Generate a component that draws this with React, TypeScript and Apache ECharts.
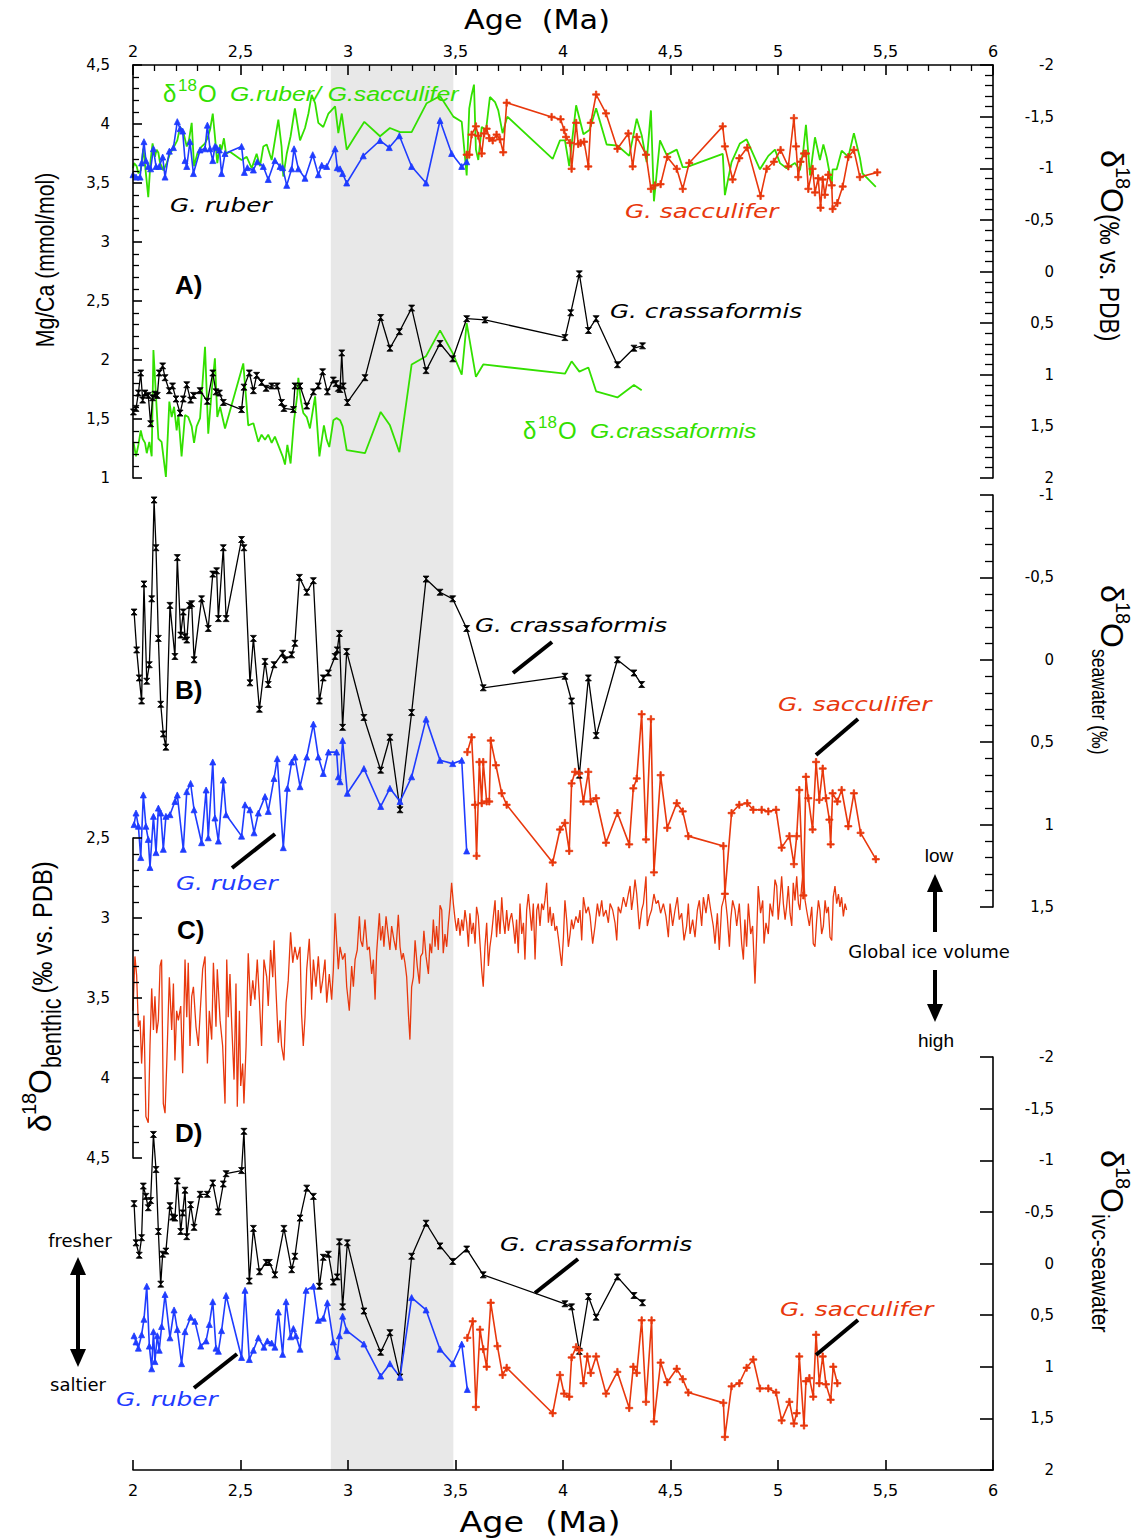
import React, { useEffect, useRef } from "react";
import * as echarts from "echarts";

// ---------------- DATA ----------------
const AGE_RANGE = [2, 6];
const SHADED_AGE = [2.92, 3.49];

// Panel A – Mg/Ca (mmol/mol)
const rubMgCa = [[2.0,3.57],[2.014,3.55],[2.033,3.55],[2.04,3.67],[2.051,3.85],[2.06,3.69],[2.071,3.64],[2.082,3.62],[2.095,3.79],[2.107,3.64],[2.122,3.64],[2.138,3.72],[2.149,3.55],[2.169,3.77],[2.188,3.8],[2.206,4.02],[2.219,3.96],[2.231,3.94],[2.242,3.69],[2.25,3.64],[2.265,3.85],[2.281,3.58],[2.312,3.78],[2.335,3.79],[2.346,3.99],[2.358,3.79],[2.371,3.69],[2.381,3.81],[2.389,3.8],[2.402,3.78],[2.412,3.58],[2.428,3.75],[2.505,3.81],[2.518,3.59],[2.532,3.63],[2.56,3.61],[2.578,3.68],[2.606,3.64],[2.629,3.53],[2.66,3.69],[2.684,3.64],[2.696,3.63],[2.715,3.48],[2.738,3.62],[2.749,3.79],[2.769,3.62],[2.8,3.54],[2.836,3.74],[2.862,3.57],[2.878,3.65],[2.901,3.64],[2.94,3.79],[2.95,3.63],[2.963,3.62],[2.975,3.58],[2.994,3.5],[3.071,3.73],[3.149,3.86],[3.192,3.8],[3.239,3.9],[3.296,3.64],[3.363,3.5],[3.428,4.03],[3.482,3.75],[3.529,3.64],[3.552,3.68]];
const saccMgCa = [[3.552,3.74],[3.564,3.74],[3.575,3.91],[3.595,3.98],[3.606,3.9],[3.622,3.75],[3.633,3.92],[3.645,3.96],[3.657,3.88],[3.673,3.86],[3.691,3.91],[3.707,3.87],[3.722,3.76],[3.738,4.18],[3.947,4.06],[3.989,4.04],[4.005,3.95],[4.014,3.89],[4.033,3.84],[4.04,3.62],[4.061,4.01],[4.071,3.83],[4.082,3.84],[4.098,3.85],[4.118,3.64],[4.129,4.01],[4.154,4.25],[4.2,4.09],[4.253,3.79],[4.304,3.92],[4.324,3.64],[4.343,3.89],[4.386,3.74],[4.409,3.45],[4.428,3.48],[4.454,3.49],[4.485,3.72],[4.529,3.62],[4.557,3.45],[4.587,3.67],[4.743,3.98],[4.753,3.81],[4.789,3.53],[4.82,3.71],[4.857,3.8],[4.919,3.39],[4.947,3.62],[4.981,3.68],[5.012,3.78],[5.048,3.64],[5.074,4.05],[5.084,3.81],[5.094,3.55],[5.105,3.68],[5.121,3.75],[5.13,3.75],[5.141,3.45],[5.161,3.62],[5.172,3.42],[5.187,3.54],[5.198,3.29],[5.208,3.53],[5.218,3.4],[5.234,3.57],[5.25,3.48],[5.254,3.28],[5.276,3.33],[5.301,3.47],[5.327,3.72],[5.353,3.78],[5.381,3.55],[5.462,3.59]];
const crassMgCa = [[2.002,1.56],[2.014,1.59],[2.025,1.72],[2.036,1.89],[2.045,1.66],[2.056,1.72],[2.071,1.7],[2.082,1.46],[2.091,1.68],[2.102,1.71],[2.113,1.7],[2.122,1.89],[2.138,1.95],[2.149,1.85],[2.169,1.74],[2.184,1.78],[2.2,1.67],[2.219,1.55],[2.234,1.67],[2.25,1.79],[2.268,1.66],[2.281,1.7],[2.312,1.74],[2.346,1.65],[2.371,1.89],[2.386,1.73],[2.402,1.72],[2.42,1.64],[2.505,1.58],[2.516,1.77],[2.541,1.89],[2.56,1.74],[2.575,1.87],[2.598,1.81],[2.619,1.76],[2.645,1.78],[2.671,1.78],[2.691,1.64],[2.702,1.59],[2.746,1.58],[2.753,1.78],[2.777,1.78],[2.808,1.61],[2.839,1.73],[2.862,1.78],[2.882,1.9],[2.904,1.73],[2.932,1.83],[2.944,1.8],[2.955,1.76],[2.963,1.75],[2.971,2.06],[2.978,1.78],[2.997,1.64],[3.079,1.85],[3.152,2.36],[3.195,2.1],[3.239,2.24],[3.296,2.44],[3.363,1.91],[3.428,2.14],[3.487,2.01],[3.552,2.35],[3.637,2.34],[4.009,2.19],[4.036,2.4],[4.076,2.73],[4.118,2.25],[4.154,2.35],[4.253,1.96],[4.33,2.1],[4.37,2.12]];
// Panel A – δ18O (‰ vs PDB)
const d18RubSacc = [[2.0,-1.0],[2.005,-1.05],[2.017,-1.02],[2.025,-0.95],[2.036,-0.98],[2.048,-1.19],[2.06,-0.95],[2.071,-0.72],[2.082,-1.08],[2.091,-1.24],[2.102,-1.11],[2.11,-1.18],[2.118,-1.15],[2.126,-1.05],[2.133,-1.02],[2.141,-0.98],[2.157,-1.05],[2.172,-1.14],[2.191,-1.21],[2.206,-1.27],[2.219,-1.4],[2.234,-1.35],[2.25,-1.21],[2.26,-1.27],[2.273,-1.44],[2.284,-1.02],[2.299,-1.14],[2.319,-1.21],[2.335,-1.24],[2.346,-1.29],[2.358,-1.37],[2.371,-1.53],[2.381,-1.31],[2.392,-1.05],[2.405,-1.23],[2.412,-1.18],[2.423,-1.29],[2.433,-1.14],[2.451,-1.16],[2.505,-1.08],[2.529,-1.11],[2.552,-1.0],[2.575,-1.14],[2.591,-1.02],[2.606,-1.21],[2.622,-1.23],[2.637,-1.13],[2.645,-1.08],[2.66,-1.27],[2.676,-1.47],[2.691,-1.21],[2.699,-0.92],[2.715,-1.14],[2.733,-1.31],[2.753,-1.58],[2.777,-1.27],[2.8,-1.39],[2.816,-1.53],[2.831,-1.71],[2.847,-1.63],[2.862,-1.44],[2.885,-1.4],[2.909,-1.53],[2.94,-1.6],[2.955,-1.34],[2.971,-1.53],[2.994,-1.18],[3.033,-1.31],[3.076,-1.45],[3.149,-1.31],[3.195,-1.39],[3.242,-1.35],[3.296,-1.35],[3.366,-1.63],[3.428,-1.7],[3.49,-1.5],[3.529,-1.45],[3.552,-0.93],[3.564,-1.58],[3.575,-1.71],[3.586,-1.81],[3.595,-1.18],[3.606,-1.08],[3.622,-1.4],[3.642,-1.37],[3.66,-1.69],[3.684,-1.64],[3.699,-1.56],[3.719,-1.34],[3.741,-1.5],[3.952,-1.09],[3.986,-1.27],[4.009,-1.27],[4.029,-1.02],[4.061,-1.61],[4.095,-1.33],[4.123,-1.37],[4.154,-1.58],[4.203,-1.23],[4.253,-1.22],[4.308,-1.12],[4.343,-1.48],[4.366,-1.32],[4.389,-1.06],[4.409,-1.56],[4.423,-0.68],[4.451,-1.27],[4.482,-1.13],[4.529,-1.18],[4.557,-1.01],[4.575,-1.01],[4.743,-1.14],[4.753,-0.74],[4.784,-1.06],[4.823,-1.24],[4.854,-1.28],[4.916,-0.99],[4.955,-1.12],[4.986,-1.18],[5.009,-1.05],[5.04,-1.0],[5.079,-1.05],[5.102,-0.98],[5.118,-1.18],[5.13,-1.42],[5.141,-1.14],[5.149,-0.93],[5.172,-1.3],[5.195,-1.08],[5.211,-1.23],[5.226,-1.11],[5.25,-0.84],[5.254,-0.99],[5.273,-0.99],[5.296,-1.17],[5.327,-1.11],[5.353,-1.34],[5.381,-1.1],[5.393,-0.95],[5.455,-0.82]];
const d18Crass = [[2.002,1.65],[2.014,1.79],[2.025,1.68],[2.036,1.54],[2.045,1.62],[2.056,1.66],[2.064,1.76],[2.076,1.65],[2.087,1.79],[2.095,0.76],[2.107,1.21],[2.118,1.62],[2.133,1.65],[2.153,1.99],[2.169,1.26],[2.18,1.41],[2.191,1.31],[2.203,1.54],[2.211,1.39],[2.226,1.79],[2.242,1.39],[2.257,1.41],[2.273,1.5],[2.284,1.66],[2.296,1.5],[2.312,1.42],[2.335,0.73],[2.35,1.57],[2.366,1.16],[2.381,0.84],[2.392,1.41],[2.405,1.31],[2.428,1.52],[2.513,0.89],[2.536,1.49],[2.56,1.47],[2.583,1.65],[2.598,1.58],[2.614,1.63],[2.629,1.58],[2.645,1.66],[2.66,1.6],[2.681,1.71],[2.696,1.79],[2.707,1.87],[2.718,1.68],[2.733,1.86],[2.749,1.44],[2.764,1.2],[2.769,1.03],[2.78,1.24],[2.792,1.37],[2.808,1.41],[2.823,1.52],[2.847,1.21],[2.867,1.79],[2.878,1.63],[2.888,1.49],[2.901,1.63],[2.913,1.7],[2.932,1.44],[2.947,1.42],[2.963,1.44],[2.975,1.5],[2.994,1.73],[3.079,1.76],[3.152,1.36],[3.195,1.49],[3.239,1.75],[3.296,0.9],[3.363,0.82],[3.428,0.57],[3.487,0.79],[3.529,1.0],[3.552,0.5],[3.595,1.02],[3.629,0.9],[4.009,0.99],[4.04,0.87],[4.076,0.97],[4.118,0.93],[4.154,1.16],[4.253,1.22],[4.33,1.1],[4.366,1.15]];

// Panel B – δ18O seawater (‰)
const crassSw = [[2.005,-0.29],[2.017,-0.06],[2.029,0.11],[2.04,0.25],[2.051,-0.46],[2.064,0.13],[2.076,0.03],[2.087,-0.37],[2.098,-0.97],[2.107,-0.68],[2.118,-0.13],[2.129,0.27],[2.141,0.45],[2.153,0.53],[2.172,-0.33],[2.195,-0.02],[2.206,-0.62],[2.222,-0.15],[2.234,-0.29],[2.242,-0.14],[2.25,-0.12],[2.262,-0.33],[2.273,-0.34],[2.284,0.0],[2.319,-0.37],[2.35,-0.19],[2.371,-0.52],[2.389,-0.54],[2.397,-0.25],[2.42,-0.68],[2.433,-0.25],[2.505,-0.73],[2.516,-0.68],[2.544,0.14],[2.56,-0.13],[2.588,0.3],[2.614,0.01],[2.629,0.15],[2.656,0.03],[2.696,-0.04],[2.707,0.0],[2.738,-0.03],[2.753,-0.1],[2.774,-0.5],[2.808,-0.41],[2.839,-0.48],[2.867,0.25],[2.885,0.11],[2.909,0.08],[2.94,-0.02],[2.95,-0.06],[2.96,-0.16],[2.975,0.41],[2.994,-0.05],[3.074,0.35],[3.152,0.67],[3.195,0.47],[3.242,0.91],[3.296,0.32],[3.363,-0.49],[3.428,-0.41],[3.487,-0.37],[3.552,-0.19],[3.629,0.17],[4.009,0.1],[4.04,0.25],[4.076,0.7],[4.118,0.11],[4.154,0.46],[4.253,0.0],[4.33,0.08],[4.366,0.15]];
const rubSw = [[2.005,1.0],[2.014,0.93],[2.025,1.01],[2.036,1.2],[2.048,0.82],[2.06,1.01],[2.071,1.09],[2.079,1.26],[2.095,0.95],[2.107,1.17],[2.118,0.9],[2.129,0.93],[2.141,1.15],[2.153,0.95],[2.172,0.94],[2.195,0.86],[2.206,0.82],[2.234,1.15],[2.25,0.8],[2.268,0.75],[2.284,0.91],[2.319,1.11],[2.34,0.79],[2.35,1.08],[2.371,0.62],[2.381,0.96],[2.397,1.1],[2.42,0.73],[2.433,0.94],[2.505,1.07],[2.521,0.88],[2.544,0.91],[2.563,1.05],[2.583,0.93],[2.614,0.83],[2.629,0.92],[2.656,0.72],[2.671,0.6],[2.699,1.14],[2.718,0.78],[2.738,0.62],[2.753,0.59],[2.777,0.77],[2.808,0.59],[2.839,0.39],[2.862,0.59],[2.885,0.69],[2.909,0.56],[2.947,0.56],[2.955,0.71],[2.963,0.74],[2.975,0.49],[2.997,0.81],[3.074,0.66],[3.152,0.89],[3.195,0.78],[3.242,0.86],[3.296,0.71],[3.363,0.36],[3.428,0.61],[3.487,0.63],[3.529,0.61],[3.552,1.16]];
const saccSw = [[3.555,0.56],[3.575,0.47],[3.591,0.88],[3.598,1.19],[3.611,0.62],[3.622,0.87],[3.629,0.62],[3.645,0.86],[3.657,0.86],[3.664,0.49],[3.688,0.64],[3.715,0.81],[3.738,0.88],[3.952,1.23],[3.986,1.03],[4.009,0.99],[4.029,1.16],[4.04,0.75],[4.056,0.68],[4.076,0.69],[4.095,0.86],[4.118,0.68],[4.129,0.86],[4.154,0.84],[4.2,1.11],[4.253,0.93],[4.308,1.12],[4.327,0.78],[4.343,0.72],[4.366,0.33],[4.386,1.09],[4.409,0.36],[4.423,1.29],[4.454,0.7],[4.485,1.02],[4.529,0.87],[4.557,0.92],[4.583,1.07],[4.746,1.13],[4.753,1.42],[4.784,0.93],[4.82,0.88],[4.857,0.87],[4.885,0.91],[4.924,0.91],[4.955,0.92],[4.991,0.91],[5.017,1.14],[5.053,1.07],[5.074,1.24],[5.087,1.07],[5.099,0.79],[5.118,1.43],[5.13,0.71],[5.141,0.84],[5.161,1.03],[5.177,0.62],[5.192,0.85],[5.208,0.66],[5.223,0.84],[5.239,0.97],[5.245,1.12],[5.254,0.81],[5.276,0.86],[5.296,0.79],[5.327,1.01],[5.353,0.81],[5.384,1.05],[5.455,1.21]];

// Panel C – benthic δ18O (‰ vs PDB)
const benthic = [[2.0,3.58],[2.009,3.24],[2.017,3.36],[2.025,3.68],[2.033,3.64],[2.04,3.91],[2.051,3.61],[2.06,4.24],[2.071,4.28],[2.079,3.8],[2.087,3.44],[2.095,3.7],[2.102,3.49],[2.11,3.72],[2.118,3.64],[2.126,3.3],[2.133,3.26],[2.141,4.16],[2.149,4.22],[2.157,3.91],[2.169,3.37],[2.18,3.7],[2.188,3.41],[2.195,3.89],[2.203,3.58],[2.211,3.64],[2.222,3.55],[2.231,3.97],[2.242,3.26],[2.25,3.62],[2.257,3.28],[2.265,3.8],[2.273,3.49],[2.281,3.43],[2.293,3.68],[2.304,3.8],[2.312,3.6],[2.324,3.32],[2.335,3.24],[2.346,3.91],[2.355,3.58],[2.366,3.76],[2.374,3.28],[2.386,3.68],[2.392,3.32],[2.405,3.64],[2.417,3.8],[2.428,4.16],[2.436,3.26],[2.443,3.62],[2.451,3.35],[2.459,3.66],[2.47,4.01],[2.479,3.41],[2.485,4.18],[2.495,3.58],[2.501,4.05],[2.51,3.91],[2.516,4.16],[2.526,3.8],[2.536,3.22],[2.547,3.55],[2.557,3.39],[2.567,3.51],[2.578,3.26],[2.588,3.51],[2.598,3.8],[2.609,3.26],[2.622,3.37],[2.629,3.55],[2.64,3.2],[2.65,3.37],[2.656,3.14],[2.665,3.45],[2.676,3.78],[2.684,3.64],[2.691,3.8],[2.702,3.89],[2.712,3.53],[2.722,3.39],[2.733,3.09],[2.743,3.28],[2.753,3.18],[2.764,3.26],[2.777,3.18],[2.784,3.6],[2.792,3.8],[2.8,3.62],[2.808,3.32],[2.82,3.13],[2.831,3.51],[2.839,3.26],[2.851,3.43],[2.862,3.24],[2.873,3.47],[2.882,3.39],[2.893,3.26],[2.901,3.53],[2.913,3.35],[2.924,3.51],[2.932,3.32],[2.94,2.97],[2.947,3.14],[2.955,3.32],[2.963,3.18],[2.975,3.26],[2.986,3.22],[2.994,3.43],[3.006,3.58],[3.017,3.3],[3.025,3.43],[3.033,3.26],[3.043,3.2],[3.053,2.99],[3.059,3.14],[3.068,3.18],[3.079,3.01],[3.09,3.2],[3.099,3.18],[3.11,3.35],[3.118,3.26],[3.126,3.51],[3.133,3.22],[3.146,2.97],[3.152,3.14],[3.161,3.05],[3.167,3.18],[3.177,2.99],[3.188,3.12],[3.195,3.2],[3.203,3.05],[3.214,3.14],[3.223,3.2],[3.234,2.98],[3.242,3.18],[3.25,3.26],[3.257,3.22],[3.265,3.28],[3.273,3.37],[3.281,3.6],[3.288,3.76],[3.296,3.43],[3.304,3.37],[3.312,3.14],[3.322,3.3],[3.332,3.41],[3.338,3.24],[3.347,3.22],[3.353,3.08],[3.363,3.24],[3.374,3.35],[3.381,3.16],[3.389,3.22],[3.397,3.01],[3.405,3.18],[3.412,3.05],[3.42,3.2],[3.428,2.92],[3.436,2.95],[3.443,3.22],[3.451,3.1],[3.459,3.18],[3.467,3.03],[3.474,2.93],[3.482,2.78],[3.49,2.91],[3.498,3.01],[3.505,3.08],[3.513,3.0],[3.521,3.11],[3.529,3.01],[3.536,3.08],[3.544,2.95],[3.552,3.03],[3.56,3.18],[3.567,2.97],[3.575,3.1],[3.583,3.03],[3.591,3.16],[3.598,2.93],[3.606,2.99],[3.614,3.16],[3.622,3.33],[3.629,3.43],[3.637,3.18],[3.645,3.03],[3.653,3.3],[3.66,3.18],[3.668,3.1],[3.676,2.99],[3.684,2.89],[3.691,3.12],[3.699,2.95],[3.707,3.1],[3.715,2.87],[3.722,3.01],[3.73,3.1],[3.738,2.95],[3.746,3.08],[3.753,3.01],[3.761,2.97],[3.769,3.05],[3.777,3.16],[3.784,3.01],[3.792,3.22],[3.8,2.91],[3.808,3.1],[3.816,3.03],[3.823,3.26],[3.831,2.95],[3.839,2.85],[3.847,2.97],[3.854,3.08],[3.862,2.91],[3.87,3.26],[3.878,2.95],[3.885,2.91],[3.893,3.05],[3.901,2.91],[3.909,2.95],[3.916,2.89],[3.924,2.78],[3.932,3.03],[3.94,2.93],[3.947,3.05],[3.955,2.97],[3.963,3.08],[3.971,3.05],[3.978,3.12],[3.994,3.3],[4.002,3.12],[4.009,2.89],[4.017,3.01],[4.025,3.18],[4.033,3.1],[4.04,3.01],[4.048,3.07],[4.06,2.99],[4.071,3.03],[4.079,2.95],[4.087,3.14],[4.095,2.87],[4.107,2.97],[4.118,2.93],[4.126,2.99],[4.138,3.16],[4.149,3.05],[4.16,2.91],[4.169,2.99],[4.18,2.89],[4.188,2.99],[4.2,2.95],[4.211,3.03],[4.219,2.91],[4.231,2.95],[4.242,3.03],[4.25,3.14],[4.257,2.93],[4.268,2.97],[4.281,2.87],[4.293,2.93],[4.304,2.85],[4.312,2.8],[4.319,2.95],[4.327,2.87],[4.335,2.76],[4.343,2.85],[4.355,3.07],[4.366,2.95],[4.374,2.91],[4.386,2.74],[4.392,3.05],[4.402,2.99],[4.412,2.95],[4.423,2.85],[4.433,2.91],[4.443,2.89],[4.454,2.97],[4.467,2.91],[4.479,2.99],[4.49,3.12],[4.498,2.91],[4.51,3.05],[4.521,2.95],[4.532,2.87],[4.541,3.01],[4.552,2.97],[4.563,3.14],[4.575,3.05],[4.583,2.91],[4.591,3.1],[4.603,3.01],[4.614,3.12],[4.625,2.95],[4.634,2.89],[4.645,3.05],[4.653,2.87],[4.665,2.97],[4.676,2.85],[4.687,2.95],[4.699,3.05],[4.707,3.16],[4.718,2.97],[4.727,3.2],[4.738,2.93],[4.746,2.89],[4.753,2.85],[4.764,2.99],[4.774,3.18],[4.78,3.01],[4.789,2.89],[4.8,2.95],[4.808,3.05],[4.82,2.91],[4.831,3.16],[4.839,3.26],[4.846,3.01],[4.854,3.18],[4.862,2.91],[4.873,3.1],[4.882,3.05],[4.893,3.41],[4.901,3.1],[4.908,2.8],[4.919,2.97],[4.929,2.89],[4.935,3.16],[4.944,3.03],[4.955,3.1],[4.963,2.91],[4.975,2.99],[4.986,2.76],[4.994,2.8],[5.001,3.01],[5.009,2.89],[5.017,2.74],[5.025,2.91],[5.033,3.01],[5.04,2.93],[5.048,2.8],[5.056,2.97],[5.064,3.05],[5.071,2.78],[5.079,2.89],[5.087,2.74],[5.095,2.91],[5.102,2.95],[5.11,2.8],[5.118,2.7],[5.126,2.89],[5.133,2.95],[5.146,3.05],[5.157,2.93],[5.164,3.16],[5.172,3.18],[5.18,3.01],[5.188,2.89],[5.195,2.95],[5.203,3.1],[5.211,3.05],[5.219,2.89],[5.226,2.97],[5.234,2.93],[5.242,3.12],[5.25,3.14],[5.257,2.87],[5.265,2.8],[5.273,2.91],[5.281,2.85],[5.288,2.93],[5.296,2.87],[5.304,2.99],[5.312,2.91],[5.319,2.95]];

// Panel D – δ18O ivc-seawater (‰)
const crassIvc = [[2.005,-0.58],[2.014,-0.2],[2.029,-0.08],[2.04,-0.25],[2.048,-0.75],[2.06,-0.65],[2.071,-0.54],[2.082,-0.61],[2.095,-1.25],[2.107,-0.91],[2.118,-0.31],[2.129,0.2],[2.138,-0.09],[2.153,-0.12],[2.172,-0.56],[2.184,-0.45],[2.195,-0.44],[2.206,-0.8],[2.222,-0.31],[2.231,-0.49],[2.242,-0.71],[2.25,-0.26],[2.268,-0.57],[2.284,-0.35],[2.312,-0.67],[2.346,-0.67],[2.371,-0.78],[2.397,-0.5],[2.42,-0.77],[2.433,-0.87],[2.505,-0.9],[2.516,-1.28],[2.541,0.17],[2.56,-0.34],[2.588,0.08],[2.619,-0.01],[2.634,-0.01],[2.66,0.11],[2.702,-0.34],[2.738,0.06],[2.753,-0.07],[2.777,-0.44],[2.808,-0.73],[2.839,-0.65],[2.867,0.22],[2.885,-0.06],[2.909,-0.09],[2.932,0.18],[2.95,0.13],[2.96,-0.21],[2.975,0.42],[2.997,-0.2],[3.074,0.46],[3.152,0.86],[3.195,0.67],[3.242,1.1],[3.296,-0.07],[3.363,-0.39],[3.428,-0.17],[3.487,-0.02],[3.552,-0.14],[3.629,0.11],[4.009,0.39],[4.04,0.42],[4.076,0.85],[4.118,0.32],[4.154,0.52],[4.253,0.13],[4.33,0.31],[4.37,0.38]];
const rubIvc = [[2.005,0.7],[2.014,0.76],[2.025,0.82],[2.04,0.69],[2.051,0.54],[2.064,0.22],[2.076,0.8],[2.087,1.02],[2.095,0.66],[2.102,0.95],[2.113,0.7],[2.122,0.84],[2.133,0.61],[2.149,0.3],[2.172,0.72],[2.191,0.45],[2.206,0.64],[2.226,0.97],[2.242,0.66],[2.268,0.52],[2.288,0.56],[2.315,0.8],[2.34,0.75],[2.355,0.59],[2.371,0.37],[2.386,0.82],[2.397,0.85],[2.412,0.65],[2.433,0.31],[2.505,0.91],[2.521,0.26],[2.541,0.93],[2.56,0.84],[2.583,0.72],[2.609,0.81],[2.625,0.75],[2.645,0.77],[2.66,0.81],[2.676,0.47],[2.696,0.88],[2.712,0.37],[2.733,0.71],[2.746,0.63],[2.758,0.7],[2.777,0.83],[2.805,0.26],[2.839,0.22],[2.862,0.55],[2.885,0.53],[2.904,0.38],[2.932,0.76],[2.95,0.9],[2.96,0.7],[2.975,0.51],[2.994,0.65],[3.074,0.78],[3.152,1.09],[3.195,0.97],[3.242,1.1],[3.296,0.33],[3.363,0.45],[3.428,0.83],[3.487,0.97],[3.529,0.78],[3.555,1.22]];
const saccIvc = [[3.555,0.72],[3.58,0.56],[3.595,1.39],[3.614,0.64],[3.629,0.83],[3.645,1.0],[3.664,0.38],[3.695,0.8],[3.719,1.08],[3.738,1.01],[3.952,1.45],[3.986,1.08],[4.005,1.26],[4.029,1.29],[4.04,0.91],[4.061,0.81],[4.076,0.84],[4.095,1.16],[4.113,0.9],[4.129,1.06],[4.154,0.9],[4.2,1.26],[4.253,1.05],[4.308,1.4],[4.327,1.0],[4.343,1.06],[4.366,0.55],[4.386,1.34],[4.412,0.55],[4.423,1.53],[4.454,0.96],[4.485,1.15],[4.529,1.02],[4.557,1.12],[4.583,1.25],[4.746,1.35],[4.753,1.68],[4.784,1.19],[4.82,1.16],[4.854,1.01],[4.885,0.93],[4.916,1.21],[4.955,1.21],[4.991,1.25],[5.017,1.52],[5.053,1.34],[5.074,1.55],[5.087,1.45],[5.099,0.9],[5.121,1.57],[5.13,1.14],[5.146,1.11],[5.164,1.29],[5.177,0.69],[5.192,1.16],[5.208,0.9],[5.223,1.17],[5.245,1.32],[5.257,1.0],[5.276,1.16]];

// ---------------- STYLE ----------------
const BLACK = "#000000";
const BLUE = "#1f3cff";
const RED = "#e8380d";
const GREEN = "#33e000";
const TICK_FONT = "DejaVu Sans";
const TXT_FONT = "Liberation Sans";
const ANN_FONT = "DejaVu Sans";

const SYM_X = "path://M0,0L10,0L0,10L10,10Z";
const SYM_PLUS = "path://M4,0H6V4H10V6H6V10H4V6H0V4H4Z";

const fmt = (v: number) => String(v).replace(".", ",");

const L = 133, W = 860;

function yAx(grid: number, pos: string, min: number, max: number, inverse: boolean, minor: boolean, show = true, labelMargin = 23) {
  return {
    gridIndex: grid, type: "value", position: pos, min, max, interval: 0.5, inverse, show, z: 5,
    axisLine: { show: true, onZero: false, lineStyle: { color: BLACK, width: 1.6 } },
    axisTick: { show: true, inside: true, length: pos === "right" ? 13 : 9, lineStyle: { color: BLACK, width: 1.6 } },
    minorTick: { show: minor, splitNumber: 5, length: pos === "right" ? 8 : 6, lineStyle: { color: BLACK, width: 1.3 } },
    splitLine: { show: false },
    axisLabel: { formatter: fmt, margin: labelMargin, fontSize: 15, fontFamily: TICK_FONT, color: BLACK, align: "right" },
  };
}

function xAx(grid: number, pos: string | null, margin = 6, minor = true) {
  if (!pos) return { gridIndex: grid, type: "value", min: AGE_RANGE[0], max: AGE_RANGE[1], show: false };
  return {
    gridIndex: grid, type: "value", position: pos, min: AGE_RANGE[0], max: AGE_RANGE[1], interval: 0.5, z: 5,
    axisLine: { show: true, onZero: false, lineStyle: { color: BLACK, width: 1.6 } },
    axisTick: { show: true, inside: true, length: 10, lineStyle: { color: BLACK, width: 1.6 } },
    minorTick: { show: minor, splitNumber: 5, length: 6, lineStyle: { color: BLACK, width: 1.3 } },
    splitLine: { show: false },
    axisLabel: { formatter: fmt, margin, fontSize: 16, fontFamily: TICK_FONT, color: BLACK },
  };
}

function ser(name: string, data: number[][], xi: number, yi: number, color: string, symbol: string, size: number, width = 1.5) {
  return {
    name, type: "line", data, xAxisIndex: xi, yAxisIndex: yi, z: 3,
    symbol, symbolSize: size, showSymbol: symbol !== "none",
    lineStyle: { color, width }, itemStyle: { color, borderColor: color, borderWidth: 0.8 },
    silent: true, animation: false,
  };
}

function txt(x: number, y: number, text: string, font: string, fill = BLACK, align = "left", extra: any = {}) {
  return { type: "text", x, y, z: 20, ...extra, style: { text, font, fill, textAlign: align, textVerticalAlign: "middle" } };
}
function spec(x: number, y: number, text: string, fill: string) {
  return txt(x, y, text, `italic 19px ${ANN_FONT}`, fill, "left", { scaleX: 1.3 });
}

function seg(x1: number, y1: number, x2: number, y2: number, w = 4) {
  return { type: "line", z: 20, shape: { x1, y1, x2, y2 }, style: { stroke: BLACK, lineWidth: w, lineCap: "butt" } };
}

function head(x: number, tipY: number, dir: number) {
  const b = tipY - dir * 18;
  return { type: "polygon", z: 20, shape: { points: [[x, tipY], [x - 8, b], [x + 8, b]] }, style: { fill: BLACK } };
}

function d18Label(x: number, y: number, species: string, color: string) {
  return {
    type: "group", x, y, z: 20,
    children: [
      { type: "text", x: 0, y: 0, z: 20, style: { text: "δ", font: `24px ${TXT_FONT}`, fill: color, textVerticalAlign: "middle" } },
      { type: "text", x: 15, y: -8, z: 20, style: { text: "18", font: `17px ${TXT_FONT}`, fill: color, textVerticalAlign: "middle" } },
      { type: "text", x: 35, y: 0, z: 20, style: { text: "O", font: `24px ${TXT_FONT}`, fill: color, textVerticalAlign: "middle" } },
      { type: "text", x: 67, y: 1, z: 20, scaleX: 1.18, style: { text: species, font: `italic 21px ${TXT_FONT}`, fill: color, textVerticalAlign: "middle" } },
    ],
  };
}

function d18Title(x: number, y: number, rot: number, sub: string, rest: string, subSize = 22, subScale = 0.8, restSize = 26, restGap = 6) {
  const children: any[] = [
    { type: "text", x: 0, y: 0, style: { text: "δ", font: `32px ${TXT_FONT}`, fill: BLACK, textVerticalAlign: "middle" } },
    { type: "text", x: 17, y: -11, style: { text: "18", font: `20px ${TXT_FONT}`, fill: BLACK, textVerticalAlign: "middle" } },
    { type: "text", x: 38, y: 0, style: { text: "O", font: `32px ${TXT_FONT}`, fill: BLACK, textVerticalAlign: "middle" } },
  ];
  let cx = 64;
  if (sub) {
    children.push({ type: "text", x: cx, y: 12, scaleX: subScale, style: { text: sub, font: `${subSize}px ${TXT_FONT}`, fill: BLACK, textVerticalAlign: "middle" } });
    cx += sub.length * subSize * 0.48 * subScale + restGap;
  }
  if (rest) {
    children.push({ type: "text", x: cx, y: 2, scaleX: 0.85, style: { text: rest, font: `${restSize}px ${TXT_FONT}`, fill: BLACK, textVerticalAlign: "middle" } });
  }
  return { type: "group", x, y, rotation: rot, z: 20, children };
}

const option: any = {
  animation: false,
  backgroundColor: "#ffffff",
  grid: [
    { left: L, top: 65, width: W, height: 413, containLabel: false, outerBoundsMode: "none" },
    { left: L, top: 495, width: W, height: 412, containLabel: false, outerBoundsMode: "none" },
    { left: L, top: 838, width: W, height: 320, containLabel: false, outerBoundsMode: "none" },
    { left: L, top: 1057, width: W, height: 413, containLabel: false, outerBoundsMode: "none" },
    { left: L, top: 65, width: W, height: 1405, containLabel: false, outerBoundsMode: "none" },
  ],
  xAxis: [xAx(0, "top", 6, true), xAx(1, null), xAx(2, null), xAx(3, "bottom", 12, false), xAx(4, null)],
  yAxis: [
    yAx(0, "left", 1, 4.5, false, true),
    yAx(0, "right", -2, 2, true, true, true, 61),
    yAx(1, "right", -1, 1.5, true, true, true, 61),
    yAx(2, "left", 2.5, 4.5, true, true),
    yAx(3, "right", -2, 2, true, false, true, 61),
    { gridIndex: 4, type: "value", min: 0, max: 1, show: false },
  ],
  series: [
    {
      type: "line", xAxisIndex: 4, yAxisIndex: 5, data: [[2, 0.5]], symbol: "none", z: 1,
      lineStyle: { opacity: 0 }, silent: true,
      markArea: { silent: true, itemStyle: { color: "#e8e8e8" }, data: [[{ xAxis: SHADED_AGE[0] }, { xAxis: SHADED_AGE[1] }]] },
    },
    ser("δ18O G. ruber/G. sacculifer", d18RubSacc, 0, 1, GREEN, "none", 0, 1.8),
    ser("δ18O G. crassaformis", d18Crass, 0, 1, GREEN, "none", 0, 1.8),
    ser("Mg/Ca G. ruber", rubMgCa, 0, 0, BLUE, "triangle", 6, 1.6),
    ser("Mg/Ca G. sacculifer", saccMgCa, 0, 0, RED, SYM_PLUS, 7, 1.6),
    ser("Mg/Ca G. crassaformis", crassMgCa, 0, 0, BLACK, SYM_X, 6, 1.3),
    ser("seawater G. crassaformis", crassSw, 1, 2, BLACK, SYM_X, 6, 1.3),
    ser("seawater G. ruber", rubSw, 1, 2, BLUE, "triangle", 6, 1.6),
    ser("seawater G. sacculifer", saccSw, 1, 2, RED, SYM_PLUS, 7, 1.6),
    ser("benthic", benthic, 2, 3, RED, "none", 0, 1.3),
    ser("ivc G. crassaformis", crassIvc, 3, 4, BLACK, SYM_X, 6, 1.3),
    ser("ivc G. ruber", rubIvc, 3, 4, BLUE, "triangle", 6, 1.6),
    ser("ivc G. sacculifer", saccIvc, 3, 4, RED, SYM_PLUS, 7, 1.6),
  ],
  graphic: [
    txt(537, 20, "Age  (Ma)", `27px ${ANN_FONT}`, BLACK, "center", { scaleX: 1.12 }),
    txt(540, 1522, "Age  (Ma)", `29px ${ANN_FONT}`, BLACK, "center", { scaleX: 1.15 }),
    // axis titles
    txt(45, 260, "Mg/Ca (mmol/mol)", `25px ${TXT_FONT}`, BLACK, "center", { rotation: Math.PI / 2, scaleX: 0.85 }),
    d18Title(1112, 150, -Math.PI / 2, "", "(‰ vs. PDB)", 22, 0.8, 27),
    d18Title(1112, 585, -Math.PI / 2, "seawater (‰)", ""),
    d18Title(1112, 1150, -Math.PI / 2, "ivc-seawater", "", 24, 0.88),
    d18Title(40, 1132, Math.PI / 2, "benthic", "(‰ vs. PDB)", 27, 0.8, 28, 2),
    // panel A
    d18Label(163, 93, "G.ruber/ G.sacculifer", GREEN),
    spec(170, 206, "G. ruber", BLACK),
    spec(625, 212, "G. sacculifer", RED),
    txt(175, 285, "A)", `bold 26px ${TXT_FONT}`),
    spec(610, 312, "G. crassaformis", BLACK),
    d18Label(523, 430, "G.crassaformis", GREEN),
    // panel B
    spec(475, 626, "G. crassaformis", BLACK),
    seg(513, 673, 552, 642),
    txt(175, 690, "B)", `bold 26px ${TXT_FONT}`),
    spec(778, 705, "G. sacculifer", RED),
    seg(816, 755, 858, 719),
    spec(176, 884, "G. ruber", BLUE),
    seg(232, 868, 275, 834),
    // panel C
    txt(177, 930, "C)", `bold 26px ${TXT_FONT}`),
    txt(939, 855, "low", `19px ${TXT_FONT}`, BLACK, "center"),
    seg(935, 890, 935, 932, 4),
    head(935, 874, -1),
    txt(929, 951, "Global ice volume", `18px ${ANN_FONT}`, BLACK, "center"),
    seg(935, 970, 935, 1008, 4),
    head(935, 1022, 1),
    txt(936, 1040, "high", `19px ${TXT_FONT}`, BLACK, "center"),
    // panel D
    txt(175, 1133, "D)", `bold 26px ${TXT_FONT}`),
    txt(80, 1240, "fresher", `18px ${ANN_FONT}`, BLACK, "center"),
    seg(78, 1272, 78, 1352, 4),
    head(78, 1257, -1),
    head(78, 1367, 1),
    txt(78, 1384, "saltier", `18px ${ANN_FONT}`, BLACK, "center"),
    spec(500, 1245, "G. crassaformis", BLACK),
    seg(535, 1293, 578, 1259),
    spec(780, 1310, "G. sacculifer", RED),
    seg(816, 1355, 858, 1320),
    spec(116, 1400, "G. ruber", BLUE),
    seg(194, 1388, 237, 1354),
  ],
};

export default function App() {
  const ref = useRef<HTMLDivElement>(null);
  useEffect(() => {
    document.body.style.margin = "0";
    const chart = echarts.init(ref.current as HTMLDivElement, null, { renderer: "svg" });
    chart.setOption(option);
    return () => chart.dispose();
  }, []);
  return <div ref={ref} style={{ position: "absolute", left: 0, top: 0, width: 1136, height: 1539, background: "#fff" }} />;
}
